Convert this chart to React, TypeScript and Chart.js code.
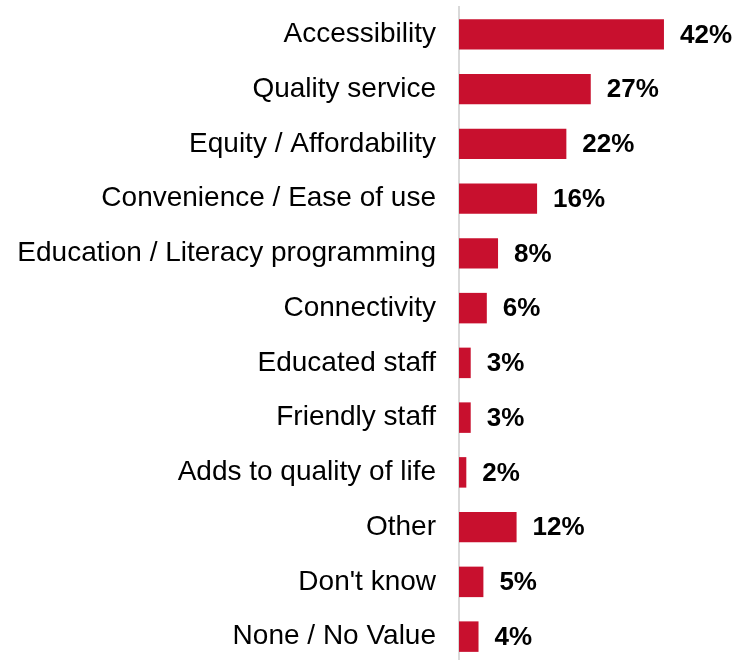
import React, { useEffect, useRef } from "react";
import { Chart, registerables } from "chart.js";

Chart.register(...registerables);

const categories = [
  "Accessibility",
  "Quality service",
  "Equity / Affordability",
  "Convenience / Ease of use",
  "Education / Literacy programming",
  "Connectivity",
  "Educated staff",
  "Friendly staff",
  "Adds to quality of life",
  "Other",
  "Don't know",
  "None / No Value",
];
const values = [42, 27, 22, 16, 8, 5.7, 2.4, 2.4, 1.5, 11.8, 5, 4];
const valueLabels = ["42%", "27%", "22%", "16%", "8%", "6%", "3%", "3%", "2%", "12%", "5%", "4%"];

const FONT = "Arial, 'Liberation Sans', sans-serif";

const valueLabelPlugin = {
  id: "valueLabels",
  afterDatasetsDraw(chart: any) {
    const ctx = chart.ctx;
    const meta = chart.getDatasetMeta(0);
    ctx.save();
    ctx.font = `bold 26px ${FONT}`;
    ctx.fillStyle = "#000";
    ctx.textAlign = "left";
    ctx.textBaseline = "middle";
    meta.data.forEach((bar: any, i: number) => {
      ctx.fillText(valueLabels[i], bar.x + 16, bar.y + 1);
    });
    ctx.restore();
  },
};

export default function App() {
  const ref = useRef<HTMLCanvasElement>(null);
  useEffect(() => {
    document.body.style.margin = "0";
    const chart = new Chart(ref.current!, {
      type: "bar",
      data: {
        labels: categories,
        datasets: [
          {
            data: values,
            backgroundColor: "#C8102E",
            barPercentage: 0.557,
            categoryPercentage: 1,
          },
        ],
      },
      options: {
        indexAxis: "y",
        animation: false,
        responsive: false,
        devicePixelRatio: 1,
        layout: { padding: { left: 0, right: 42, top: 7, bottom: 2 } },
        plugins: { legend: { display: false }, tooltip: { enabled: false } },
        scales: {
          x: { display: false, min: 0, max: 50 },
          y: {
            grid: { display: false, drawTicks: false },
            border: { display: true, color: "#d9d9d9", width: 2 },
            ticks: {
              color: "#000",
              padding: 23,
              font: { size: 28, family: FONT },
            },
            afterFit: (scale: any) => {
              scale.width = 459;
              scale.paddingTop = 0;
              scale.paddingBottom = 0;
            },
          },
        },
      },
      plugins: [valueLabelPlugin],
    });
    return () => chart.destroy();
  }, []);
  return (
    <div style={{ position: "absolute", left: 0, top: 0, width: 745, height: 660, overflow: "hidden" }}>
      <canvas ref={ref} width={745} height={666} />
    </div>
  );
}
